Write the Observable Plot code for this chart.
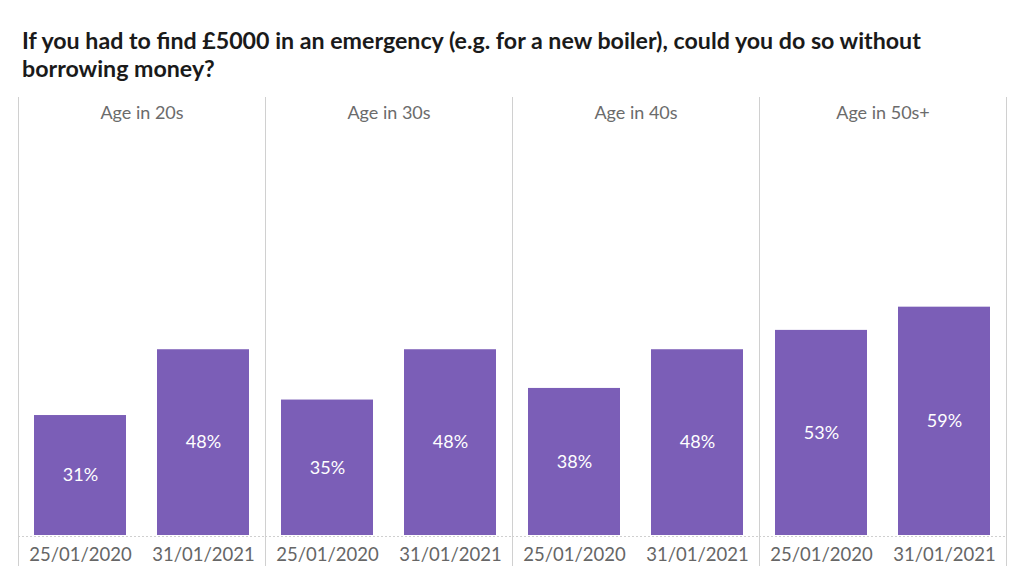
<!DOCTYPE html>
<html>
<head>
<meta charset="utf-8">
<script src="https://cdn.jsdelivr.net/npm/d3@7"></script>
<script src="https://cdn.jsdelivr.net/npm/@observablehq/plot@0.6"></script>
<style>
  html, body { margin: 0; padding: 0; background: #fff; }
  body { width: 1024px; height: 585px; overflow: hidden; font-family: Lato, sans-serif; }
  #title { margin: 26px 0 0 22px; height: 64px; font-family: Lato, sans-serif; font-weight: 700; font-size: 23.2px; line-height: 28px; color: #1a1a1a; white-space: nowrap; }
</style>
</head>
<body>
<div id="title">If you had to find £5000 in an emergency (e.g. for a new boiler), could you do so without<br>borrowing money?</div>
<div id="chart"></div>
<script>
const ageGroups = ["Age in 20s", "Age in 30s", "Age in 40s", "Age in 50s+"];
const dates = ["25/01/2020", "31/01/2021"];
const values2020 = [31, 35, 38, 53];
const values2021 = [48, 48, 48, 59];

const data = [];
ageGroups.forEach((g, i) => {
  data.push({age: g, date: dates[0], value: values2020[i]});
  data.push({age: g, date: dates[1], value: values2021[i]});
});

const chart = Plot.plot({
  width: 1024,
  height: 495,
  marginLeft: 18,
  marginRight: 18,
  marginTop: 58,
  marginBottom: 50,
  style: {fontFamily: "Lato, sans-serif", fontSize: "18px", background: "#fff"},
  fx: {domain: ageGroups, padding: 0, axis: null},
  x: {domain: dates, paddingInner: 0.25, paddingOuter: 0.125},
  y: {domain: [0, 100], axis: null},
  marks: [
    Plot.frame({anchor: "left", stroke: "#d0d0d0", insetTop: -51, insetBottom: -30}),
    Plot.frame({anchor: "right", stroke: "#d0d0d0", insetTop: -51, insetBottom: -30}),
    Plot.barY(data, {fx: "age", x: "date", y: "value", fill: "#7b5eb7"}),
    Plot.ruleY([0], {stroke: "#cfcfcf", strokeDasharray: "2,2", dy: 1}),
    Plot.text(data, {fx: "age", x: "date", y: d => d.value / 2, text: d => d.value + "%", fill: "#fff", fontSize: 18}),
    Plot.text(ageGroups, {fx: d => d, frameAnchor: "top", dy: -42, text: d => d, fill: "#6b6b6b", fontSize: 18}),
    Plot.axisX({tickSize: 0, tickPadding: 12, color: "#666", fontSize: 18.5, label: null})
  ]
});
document.getElementById("chart").appendChild(chart);
</script>
</body>
</html>
